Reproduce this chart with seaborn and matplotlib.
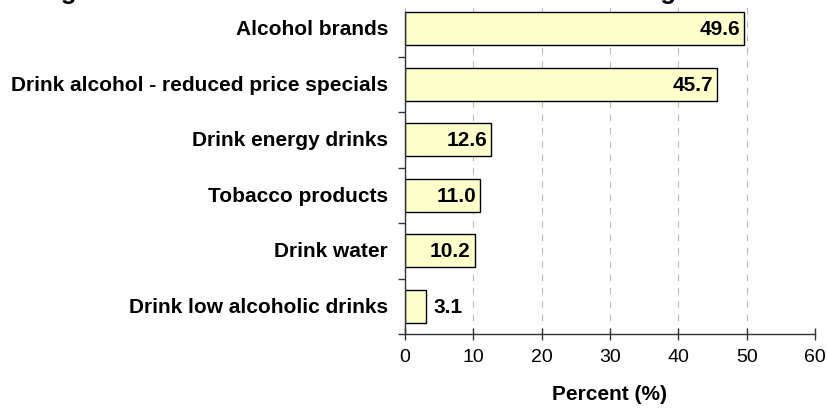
import matplotlib
matplotlib.use("Agg")
import matplotlib.pyplot as plt
import seaborn as sns
import pandas as pd

# data
categories = ["Alcohol brands", "Drink alcohol - reduced price specials",
              "Drink energy drinks", "Tobacco products", "Drink water",
              "Drink low alcoholic drinks"]
percent = [49.6, 45.7, 12.6, 11.0, 10.2, 3.1]
x_ticks = [0, 10, 20, 30, 40, 50, 60]

df = pd.DataFrame({"Category": categories, "Percent": percent})

sns.set_theme(style="white")
plt.rcParams["font.family"] = ["Liberation Sans", "DejaVu Sans"]
plt.rcParams["text.color"] = "black"
plt.rcParams["axes.labelcolor"] = "black"
plt.rcParams["xtick.color"] = "black"
plt.rcParams["ytick.color"] = "black"

fig = plt.figure(figsize=(8.27, 4.10), dpi=100)
ax = fig.add_axes([405 / 827, 1 - 335 / 410, 410 / 827, 333 / 410])

sns.barplot(data=df, x="Percent", y="Category", color="#FFFFCC",
            edgecolor="black", linewidth=1, width=0.6, saturation=1, ax=ax)

ax.set_xlim(0, 60)
ax.set_xticks(x_ticks)
ax.set_xticklabels([str(t) for t in x_ticks], fontsize=14)
ax.set_ylim(len(categories) - 0.5, -0.5)
ax.set_yticks([i - 0.5 for i in range(1, len(categories) + 1)])
ax.set_yticklabels([])
for i, c in enumerate(categories):
    ax.text(-2.5, i, c, ha="right", va="center", fontsize=15, fontweight="bold")

ax.tick_params(axis="y", length=5, width=1, color="#333333", direction="out", left=True)
ax.tick_params(axis="x", length=8, width=1, color="#333333", direction="inout",
               bottom=True, pad=6)

ax.grid(axis="x", color="#bbbbbb", linestyle=(0, (6, 6)), linewidth=0.8)
ax.set_axisbelow(True)
for s in ["top", "right"]:
    ax.spines[s].set_visible(False)
for s in ["left", "bottom"]:
    ax.spines[s].set_color("#333333")
    ax.spines[s].set_linewidth(1)
# left axis line starts at the top of the first bar
ax.spines["left"].set_bounds(len(categories) - 0.5, -0.3)

for i, v in enumerate(percent):
    if v > 8:
        ax.text(v - 0.6, i, f"{v:.1f}", ha="right", va="center",
                fontsize=15, fontweight="bold")
    else:
        ax.text(v + 1.0, i, f"{v:.1f}", ha="left", va="center",
                fontsize=15, fontweight="bold")

ax.set_ylabel("")
ax.set_xlabel("Percent (%)", fontsize=15, fontweight="bold", labelpad=14)

# title sits mostly above the top edge, as in the reference
fig.text(0.49, 1 + 1.5 / 410, "Figure 4   Promotional material observed in drinking venues",
         ha="center", va="baseline", fontsize=18.5, fontweight="bold")

fig.savefig("out.png", dpi=100)
